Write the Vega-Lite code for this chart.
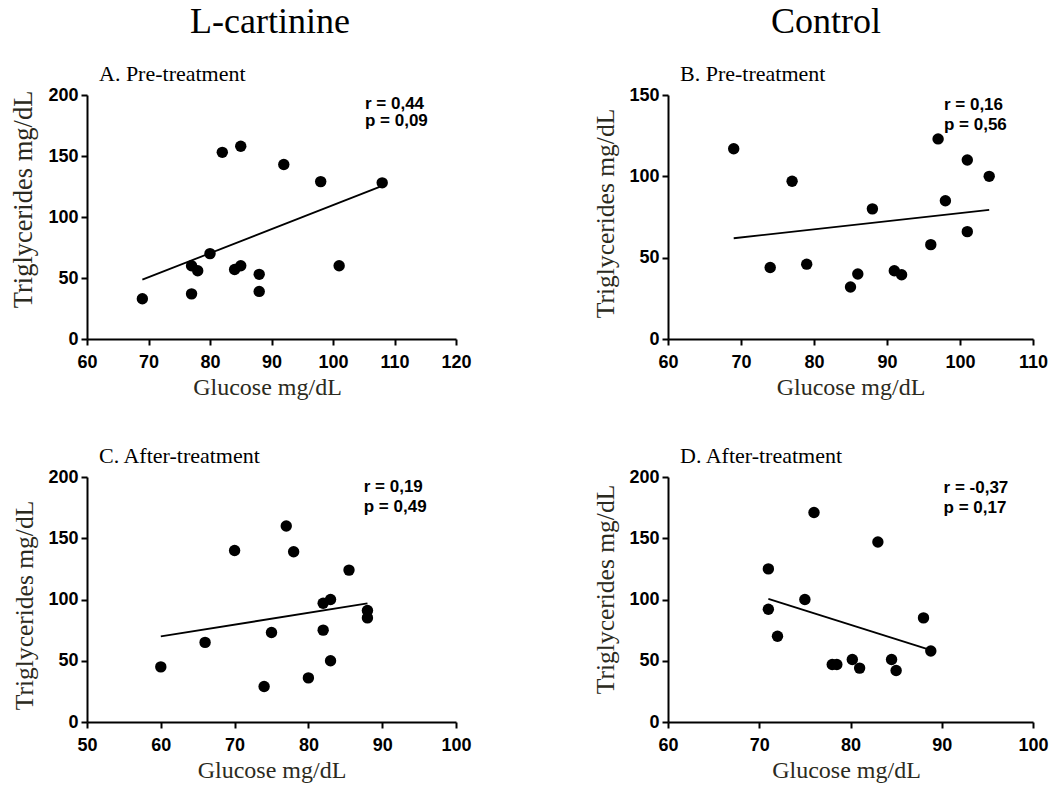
{
  "$schema": "https://vega.github.io/schema/vega-lite/v6.json",
  "background": "white",
  "padding": {"top": 4, "left": 10, "right": 5, "bottom": 5},
  "config": {
    "view": {"stroke": null},
    "axis": {"domainColor": "black", "domainWidth": 2, "tickColor": "black", "tickWidth": 2, "tickSize": 6, "labelFont": "Liberation Sans", "labelFontWeight": "bold", "labelFontSize": 18, "labelColor": "black", "labelPadding": 3, "labelFlush": false, "labelOverlap": false, "titleFont": "Liberation Serif", "titleFontWeight": "normal", "titleColor": "#2b2a20", "grid": false},
    "axisY": {"titlePadding": 10, "titleFontSize": 25.5},
    "axisX": {"titlePadding": 4, "titleFontSize": 24, "labelPadding": 8},
    "title": {"font": "Liberation Serif", "fontWeight": "normal", "color": "black"}
  },
  "datasets": {
    "A": [
      {"glucose": 69, "tg": 33}, {"glucose": 77, "tg": 37}, {"glucose": 77, "tg": 60}, {"glucose": 78, "tg": 56}, {"glucose": 80, "tg": 70},
      {"glucose": 82, "tg": 153}, {"glucose": 85, "tg": 158}, {"glucose": 84, "tg": 57}, {"glucose": 85, "tg": 60}, {"glucose": 88, "tg": 53},
      {"glucose": 88, "tg": 39}, {"glucose": 92, "tg": 143}, {"glucose": 98, "tg": 129}, {"glucose": 101, "tg": 60}, {"glucose": 108, "tg": 128}
    ],
    "B": [
      {"glucose": 69, "tg": 117}, {"glucose": 74, "tg": 44}, {"glucose": 77, "tg": 97}, {"glucose": 79, "tg": 46}, {"glucose": 85, "tg": 32},
      {"glucose": 86, "tg": 40}, {"glucose": 88, "tg": 80}, {"glucose": 91, "tg": 42}, {"glucose": 92, "tg": 39.5}, {"glucose": 96, "tg": 58},
      {"glucose": 97, "tg": 123}, {"glucose": 98, "tg": 85}, {"glucose": 101, "tg": 110}, {"glucose": 101, "tg": 66}, {"glucose": 104, "tg": 100}
    ],
    "C": [
      {"glucose": 60, "tg": 45}, {"glucose": 66, "tg": 65}, {"glucose": 70, "tg": 140}, {"glucose": 74, "tg": 29}, {"glucose": 75, "tg": 73},
      {"glucose": 77, "tg": 160}, {"glucose": 78, "tg": 139}, {"glucose": 80, "tg": 36}, {"glucose": 82, "tg": 97}, {"glucose": 83, "tg": 100},
      {"glucose": 82, "tg": 75}, {"glucose": 83, "tg": 50}, {"glucose": 85.5, "tg": 124}, {"glucose": 88, "tg": 91}, {"glucose": 88, "tg": 85}
    ],
    "D": [
      {"glucose": 71, "tg": 125}, {"glucose": 71, "tg": 92}, {"glucose": 72, "tg": 70}, {"glucose": 75, "tg": 100}, {"glucose": 76, "tg": 171},
      {"glucose": 78, "tg": 47}, {"glucose": 78.5, "tg": 47}, {"glucose": 80.2, "tg": 51}, {"glucose": 81, "tg": 44}, {"glucose": 83, "tg": 147},
      {"glucose": 84.5, "tg": 51}, {"glucose": 85, "tg": 42}, {"glucose": 88, "tg": 85}, {"glucose": 88.8, "tg": 58}
    ]
  },
  "spacing": 121,
  "hconcat": [
    {
      "title": {"text": "L-cartinine", "fontSize": 36, "anchor": "middle", "dx": 29, "offset": 22},
      "spacing": 46,
      "vconcat": [
        {
          "width": 369, "height": 244,
          "title": {"text": "A. Pre-treatment", "anchor": "start", "frame": "group", "dx": 12, "fontSize": 22, "offset": 0},
          "data": {"name": "A"},
          "encoding": {
            "x": {"field": "glucose", "type": "quantitative", "scale": {"domain": [60, 120], "nice": false, "zero": false}, "axis": {"values": [60, 70, 80, 90, 100, 110, 120], "title": "Glucose mg/dL", "titleX": 180}},
            "y": {"field": "tg", "type": "quantitative", "scale": {"domain": [0, 200], "nice": false}, "axis": {"values": [0, 50, 100, 150, 200], "title": "Triglycerides mg/dL", "titleY": 104, "titleFontSize": 26.5}}
          },
          "layer": [
            {"mark": {"type": "point", "filled": true, "size": 130, "color": "black", "opacity": 1}},
            {"transform": [{"regression": "tg", "on": "glucose"}], "mark": {"type": "line", "color": "black", "strokeWidth": 1.8}},
            {"transform": [{"filter": "datum.glucose == 108"}],
             "mark": {"type": "text", "text": ["r = 0,44", "p = 0,09"], "font": "Liberation Sans", "fontWeight": "bold", "fontSize": 17, "align": "left", "lineHeight": 17, "fill": "black"},
             "encoding": {"x": {"datum": 105.2}, "y": {"datum": 192.6}}}
          ]
        },
        {
          "width": 369, "height": 245,
          "title": {"text": "C. After-treatment", "anchor": "start", "frame": "group", "dx": 12, "fontSize": 22, "offset": 0},
          "data": {"name": "C"},
          "encoding": {
            "x": {"field": "glucose", "type": "quantitative", "scale": {"domain": [50, 100], "nice": false, "zero": false}, "axis": {"values": [50, 60, 70, 80, 90, 100], "title": "Glucose mg/dL"}},
            "y": {"field": "tg", "type": "quantitative", "scale": {"domain": [0, 200], "nice": false}, "axis": {"values": [0, 50, 100, 150, 200], "title": "Triglycerides mg/dL", "titleY": 128}}
          },
          "layer": [
            {"mark": {"type": "point", "filled": true, "size": 130, "color": "black", "opacity": 1}},
            {"transform": [{"regression": "tg", "on": "glucose"}], "mark": {"type": "line", "color": "black", "strokeWidth": 1.8}},
            {"transform": [{"filter": "datum.glucose == 60"}],
             "mark": {"type": "text", "text": ["r = 0,19", "p = 0,49"], "font": "Liberation Sans", "fontWeight": "bold", "fontSize": 17, "align": "left", "lineHeight": 20, "fill": "black"},
             "encoding": {"x": {"datum": 87.5}, "y": {"datum": 191.8}}}
          ]
        }
      ]
    },
    {
      "title": {"text": "Control", "fontSize": 36, "anchor": "middle", "dx": 5, "offset": 22},
      "spacing": 46,
      "vconcat": [
        {
          "width": 365, "height": 244,
          "title": {"text": "B. Pre-treatment", "anchor": "start", "frame": "group", "dx": 12, "fontSize": 22, "offset": 0},
          "data": {"name": "B"},
          "encoding": {
            "x": {"field": "glucose", "type": "quantitative", "scale": {"domain": [60, 110], "nice": false, "zero": false}, "axis": {"values": [60, 70, 80, 90, 100, 110], "title": "Glucose mg/dL"}},
            "y": {"field": "tg", "type": "quantitative", "scale": {"domain": [0, 150], "nice": false}, "axis": {"values": [0, 50, 100, 150], "title": "Triglycerides mg/dL", "titleY": 118}}
          },
          "layer": [
            {"mark": {"type": "point", "filled": true, "size": 130, "color": "black", "opacity": 1}},
            {"transform": [{"regression": "tg", "on": "glucose"}], "mark": {"type": "line", "color": "black", "strokeWidth": 1.8}},
            {"transform": [{"filter": "datum.glucose == 104"}],
             "mark": {"type": "text", "text": ["r = 0,16", "p = 0,56"], "font": "Liberation Sans", "fontWeight": "bold", "fontSize": 17, "align": "left", "lineHeight": 20, "fill": "black"},
             "encoding": {"x": {"datum": 97.8}, "y": {"datum": 143.8}}}
          ]
        },
        {
          "width": 365, "height": 245,
          "title": {"text": "D. After-treatment", "anchor": "start", "frame": "group", "dx": 12, "fontSize": 22, "offset": 0},
          "data": {"name": "D"},
          "encoding": {
            "x": {"field": "glucose", "type": "quantitative", "scale": {"domain": [60, 100], "nice": false, "zero": false}, "axis": {"values": [60, 70, 80, 90, 100], "title": "Glucose mg/dL", "titleX": 178}},
            "y": {"field": "tg", "type": "quantitative", "scale": {"domain": [0, 200], "nice": false}, "axis": {"values": [0, 50, 100, 150, 200], "title": "Triglycerides mg/dL", "titleY": 112}}
          },
          "layer": [
            {"mark": {"type": "point", "filled": true, "size": 130, "color": "black", "opacity": 1}},
            {"transform": [{"regression": "tg", "on": "glucose"}], "mark": {"type": "line", "color": "black", "strokeWidth": 1.8}},
            {"transform": [{"filter": "datum.glucose == 76"}],
             "mark": {"type": "text", "text": ["r = -0,37", "p = 0,17"], "font": "Liberation Sans", "fontWeight": "bold", "fontSize": 17, "align": "left", "lineHeight": 20, "fill": "black"},
             "encoding": {"x": {"datum": 90.2}, "y": {"datum": 191}}}
          ]
        }
      ]
    }
  ]
}
